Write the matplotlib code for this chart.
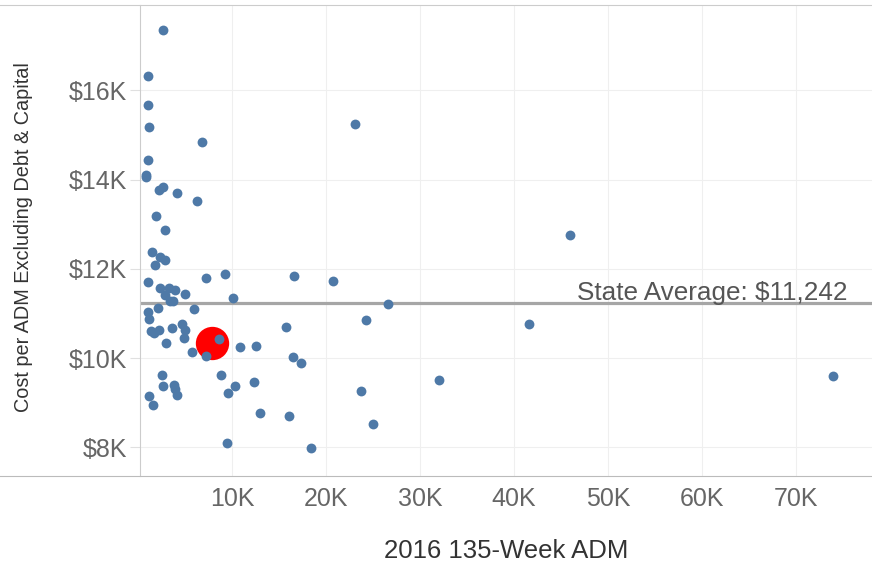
import numpy as np
import matplotlib
matplotlib.use("Agg")
from matplotlib import pyplot as plt
from matplotlib.lines import Line2D
from matplotlib.ticker import FuncFormatter

plt.rcParams["font.family"] = ["Liberation Sans", "DejaVu Sans"]

# 2016 135-week ADM for each district
adm = [
    2660, 1030, 1030, 1170, 6840, 1030, 850, 850, 2270, 2690,
    4120, 6240, 1950, 2840, 1470, 2300, 2850, 1770, 7230, 9290,
    1030, 2340, 3330, 3940, 5030, 2870, 3400, 3690, 10070, 1030,
    1200, 2130, 5920, 1380, 1700, 2270, 3620, 4710, 5030, 4860,
    3010, 8580, 5700, 7200, 10820, 12520, 2550, 2690, 3800, 3940,
    4120, 1200, 1630, 8830, 10350, 9610, 12370, 13010, 9440, 23100,
    16600, 20700, 26600, 24300, 15700, 16500, 17300, 32000, 23700, 16100,
    24970, 18400, 45960, 41600, 73900,
]
# cost per ADM excluding debt & capital
cost = [
    17350, 16310, 15660, 15180, 14850, 14430, 14110, 14060, 13760, 13830,
    13700, 13510, 13180, 12860, 12370, 12270, 12200, 12080, 11790, 11890,
    11700, 11570, 11570, 11530, 11440, 11420, 11280, 11280, 11340, 11040,
    10880, 11120, 11110, 10610, 10570, 10630, 10670, 10760, 10630, 10440,
    10340, 10420, 10140, 10050, 10250, 10280, 9620, 9370, 9390, 9300,
    9180, 9150, 8950, 9620, 9370, 9210, 9460, 8760, 8110, 15250,
    11830, 11730, 11210, 10850, 10690, 10020, 9880, 9500, 9270, 8700,
    8530, 7980, 12760, 10760, 9600,
]
# highlighted district
hl_adm = [7900]
hl_cost = [10340]

state_avg = 11242
x_ticks = [10000, 20000, 30000, 40000, 50000, 60000, 70000]
y_ticks = [8000, 10000, 12000, 14000, 16000]

fig = plt.figure(figsize=(8.72, 5.71), dpi=100)
ax = fig.add_axes([140 / 872, 95 / 571, 732 / 872, 471 / 571])

ax.scatter(hl_adm, hl_cost, s=576, color="#ff0000", linewidths=0, zorder=3)
ax.scatter(adm, cost, s=50, color="#4e79a7", linewidths=0, zorder=4)
ax.axhline(state_avg, color="#a6a6a6", lw=2.3, zorder=2)
ax.annotate(
    f"State Average: ${state_avg:,}", xy=(46700, state_avg), xytext=(0, 2),
    textcoords="offset points", va="baseline", ha="left",
    fontsize=18.8, color="#555555", zorder=5,
)

ax.set_xlim(210, 78100)
ax.set_ylim(7360, 17910)
ax.set_xticks(x_ticks)
ax.set_yticks(y_ticks)
ax.xaxis.set_major_formatter(FuncFormatter(lambda v, p: f"{v / 1000:.0f}K"))
ax.yaxis.set_major_formatter(FuncFormatter(lambda v, p: f"${v / 1000:.0f}K"))
ax.grid(True, color="#efefef", lw=0.8, zorder=0)
ax.set_axisbelow(True)

ax.tick_params(axis="x", length=0, pad=8, labelsize=18, labelcolor="#666666")
ax.tick_params(axis="y", length=7, width=0.8, color="#e0e0e0", pad=2,
               labelsize=18, labelcolor="#666666")

for side in ["top", "right", "bottom"]:
    ax.spines[side].set_visible(False)
ax.spines["left"].set_color("#cccccc")
ax.spines["left"].set_linewidth(0.8)

ax.set_xlabel("2016 135-Week ADM", fontsize=18.5, color="#333333")
ax.xaxis.set_label_coords(0.5, -0.159)
ax.xaxis.label.set_va("center")
ax.set_ylabel("Cost per ADM Excluding Debt & Capital", fontsize=14.3, color="#333333")
ax.yaxis.set_label_coords(-0.1585, 0.507)
ax.yaxis.label.set_va("center")

# frame lines running across the whole width
fig.add_artist(Line2D([0, 1], [1 - 5 / 571] * 2, color="#cccccc", lw=0.8))
fig.add_artist(Line2D([0, 1], [95 / 571] * 2, color="#bbbbbb", lw=0.8))

fig.savefig("out.png", dpi=100)
